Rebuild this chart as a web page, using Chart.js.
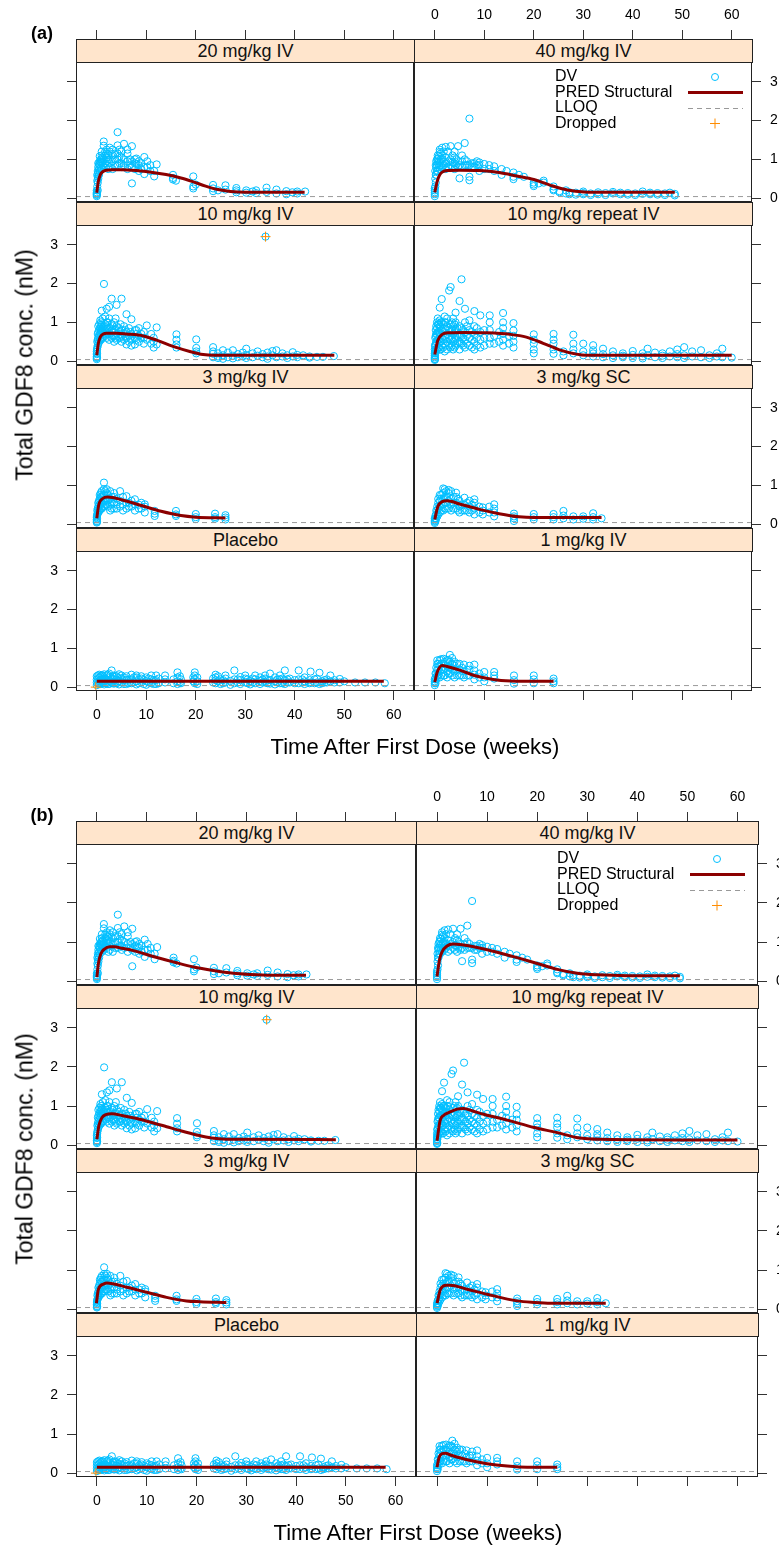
<!DOCTYPE html>
<html>
<head>
<meta charset="utf-8">
<script src="https://cdn.jsdelivr.net/npm/chart.js@4.4.1/dist/chart.umd.min.js"></script>
<style>
  body { margin: 0; width: 779px; height: 1549px; overflow: hidden; background: #fff; position: relative;
         font-family: "Liberation Sans", Arial, sans-serif; }
  canvas { position: absolute; }
  .strip { position: absolute; box-sizing: border-box; background: #ffe5cc; border: 1px solid #222;
           text-align: center; font-size: 18px; font-weight: normal; color: #111; white-space: nowrap; }
  .txt { position: absolute; white-space: nowrap; color: #000; transform: translate(-50%, -50%); }
</style>
</head>
<body>
<script>
// panel order: row by row, left then right
const panelLabels = ["20 mg/kg IV", "40 mg/kg IV", "10 mg/kg IV", "10 mg/kg repeat IV",
                     "3 mg/kg IV", "3 mg/kg SC", "Placebo", "1 mg/kg IV"];
const xTicks = [0, 10, 20, 30, 40, 50, 60];
const yTicks = [0, 1, 2, 3];
const lloq = 0.04;
const legendLabels = ["DV", "PRED Structural", "LLOQ", "Dropped"];

// observed DV, grouped by visit week: [week, [conc...]]
const dv20 = [[0,[0.05,0.08,0.1,0.12,0.15,0.2]],[0.1,[0.3,0.45,0.6]],[0.3,[0.5,0.65,0.8,0.9]],
  [0.6,[0.7,0.85,0.95,1.08]],[1,[0.75,0.9,1.0,1.1,1.2]],[1.4,[0.8,1.0,1.35,1.46]],[2,[0.85,0.95,1.05,1.15,1.25]],
  [2.6,[0.8,0.9,1.0,1.2,1.3]],[3.2,[0.75,0.95,1.1,1.25]],[4.2,[0.85,1.0,1.15,1.36,1.7]],[5,[0.8,0.9,1.05,1.2]],
  [5.5,[0.85,1.0,1.4]],[6.2,[0.75,0.95,1.15,1.25]],[7.1,[0.38,0.8,0.95,1.34]],[7.7,[0.75,0.9,1.0]],
  [8.5,[0.7,0.85,0.95]],[9.6,[0.62,0.8,1.06]],[10.8,[0.7,0.85]],[11.6,[0.56,0.7]],[12.1,[0.87]],
  [15.4,[0.48,0.52,0.6]],[16,[0.45]],[19.5,[0.25,0.3,0.56]],[20,[0.35]],[23.5,[0.18,0.25,0.34]],[24.5,[0.2]],
  [26,[0.22,0.33]],[28.2,[0.15,0.2,0.26]],[30.2,[0.14,0.2]],[31.5,[0.17]],[32.2,[0.13,0.2]],[34.3,[0.16,0.27]],
  [36.3,[0.12,0.22]],[38.3,[0.1,0.18]],[39.5,[0.15]],[40.5,[0.12,0.17]],[42.1,[0.17]],
  [0.2,[0.2,0.4,0.55,0.7]],[0.45,[0.6,0.75,0.88]],[0.8,[0.78,0.92,1.0]],[1.2,[0.85,0.95,1.05]],
  [1.7,[0.9,1.1,1.2]],[2.3,[0.75,1.0,1.12]],[3.7,[0.85,1.0,1.15]],[4.6,[0.9,1.08,1.25]],[6.7,[0.85,1.0]],
  [8,[0.88,1.02]],[9,[0.75,0.9]],[10.2,[0.8,0.95]]];
const dv40 = [[0,[0.05,0.1,0.15,0.2,0.25]],[0.1,[0.3,0.5,0.7]],[0.3,[0.6,0.8,0.95]],[0.6,[0.7,0.9,1.02,1.1]],
  [1,[0.75,0.9,1.19,1.25]],[1.5,[0.8,1.0,1.1,1.3]],[2.2,[0.75,0.9,1.05,1.32]],[2.7,[0.8,0.95,1.2]],
  [3.2,[0.85,1.0,1.34]],[4,[0.75,0.9,1.05,1.2]],[4.7,[0.8,0.95,1.34]],[5,[0.51,0.85]],[6.05,[0.85,1.0,1.42]],
  [7,[0.46,0.55,0.85,2.05]],[8,[0.8,0.9]],[9,[0.7,0.85,0.92]],[10,[0.75,0.88]],[12,[0.7,0.82]],[13.5,[0.6,0.75]],
  [15.9,[0.49,0.55,0.66]],[17,[0.6]],[20,[0.31,0.35,0.4]],[22,[0.4,0.45]],[24,[0.2,0.23,0.3]],[25.2,[0.15,0.18]],
  [26.5,[0.12,0.2]],[27.2,[0.1,0.15]],[28.5,[0.09,0.14]],[30,[0.1,0.13,0.17]],[31.5,[0.08,0.12]],[33,[0.1,0.15]],
  [34.5,[0.08,0.13]],[36,[0.12,0.16]],[37.5,[0.1,0.14]],[39,[0.09,0.13]],[40.5,[0.08,0.12]],[42,[0.11,0.17]],
  [43.5,[0.1,0.14]],[45,[0.09,0.13]],[46.5,[0.08,0.12]],[47.5,[0.14]],[48.5,[0.07,0.11]],
  [0.2,[0.4,0.6,0.85]],[0.45,[0.7,0.85,1.0]],[0.8,[0.8,0.95,1.08]],[1.2,[0.85,1.0,1.15]],[1.8,[0.85,0.95,1.2]],
  [3.6,[0.8,0.92,1.1]],[4.3,[0.85,1.0]],[5.5,[0.8,0.95,1.1]],[6.5,[0.85,0.95]],[7.5,[0.8,0.9]],[8.5,[0.85,0.95]],
  [11,[0.75,0.85]],[14.5,[0.7]],[18,[0.55]],[21,[0.38]]];
const dv10 = [[0,[0.05,0.08,0.12,0.18,0.25]],[0.1,[0.35,0.5]],[0.3,[0.45,0.6,0.75,0.9]],[0.7,[0.55,0.7,0.85,1.05]],
  [1,[0.6,0.8,0.95,1.3]],[1.45,[0.7,0.9,1.99]],[2,[0.6,0.75,0.9,1.0,1.35]],[2.5,[0.55,0.7,0.85,1.1,1.4]],
  [3,[0.6,0.8,0.95,1.61]],[3.5,[0.5,0.65,0.8,1.0]],[4,[0.55,0.7,0.9,1.45]],[4.5,[0.6,0.75,0.85]],
  [5,[0.5,0.65,0.8,1.61]],[5.5,[0.55,0.7,0.9]],[6,[0.43,0.6,0.75,1.21]],[6.5,[0.5,0.65,0.85]],
  [7,[0.4,0.55,0.7,1.08]],[7.7,[0.43,0.6,0.8]],[8.5,[0.5,0.65,0.85]],[9.5,[0.45,0.6,0.75]],[10.1,[0.55,0.92]],
  [11.5,[0.35,0.5,0.6]],[12.1,[0.43,0.87]],[16.1,[0.35,0.43,0.55,0.69]],[20.1,[0.2,0.25,0.34,0.56]],
  [23.5,[0.1,0.19,0.25,0.36]],[24.5,[0.08,0.12,0.2]],[25.5,[0.06,0.15,0.28]],[26.5,[0.1,0.22]],
  [27.5,[0.07,0.14,0.28]],[28.5,[0.1,0.18]],[29.5,[0.12,0.22]],[30.2,[0.08,0.15,0.32]],[31.5,[0.1,0.2]],
  [32.5,[0.14,0.25]],[33.5,[0.1,0.18]],[34.1,[3.21]],[34.5,[0.06,0.12,0.22]],[35.5,[0.15,0.26]],[36.3,[0.1,0.28]],
  [37.5,[0.12,0.2]],[38.5,[0.08,0.15]],[39.6,[0.12,0.23]],[40.5,[0.1,0.16]],[41.7,[0.15]],[43,[0.09,0.12]],
  [44.5,[0.11]],[45.7,[0.11]],[47.9,[0.13]],
  [0.05,[0.1,0.2,0.3]],[0.2,[0.4,0.55,0.7]],[0.5,[0.5,0.65,0.8,0.95]],[0.85,[0.55,0.75,0.9,1.0]],
  [1.2,[0.6,0.75,0.85,1.1]],[1.7,[0.65,0.8,0.95,1.15]],[2.2,[0.7,0.85,1.0]],[3.2,[0.65,0.75,0.9]],
  [3.8,[0.6,0.8,1.1]],[4.8,[0.6,0.7,0.95]],[5.8,[0.65,0.8]],[6.8,[0.6,0.75]],[8,[0.55,0.7,0.8]],[9,[0.6,0.7]],
  [11,[0.45,0.7]]];
const dvRepeat = [[0,[0.03,0.06,0.1,0.15,0.2,0.3]],[0.1,[0.2,0.4,0.6]],[0.3,[0.3,0.5,0.7,0.9]],
  [0.6,[0.35,0.55,0.75,0.95,1.1]],[1,[0.3,0.5,0.7,0.9,1.05,1.38]],[1.4,[0.4,0.6,0.8,1.0,1.6]],
  [2,[0.25,0.45,0.65,0.85,1.0,1.15]],[2.5,[0.3,0.5,0.7,0.9,1.1]],[2.9,[0.4,0.6,0.8,1.82]],
  [3.2,[0.35,0.55,0.75,0.95,1.91]],[3.7,[0.3,0.5,0.7,0.9,1.1]],[4.2,[0.4,0.6,0.8,1.0,1.25]],
  [5,[0.3,0.5,0.7,0.9,1.55]],[5.4,[0.45,0.65,0.85,2.11]],[6.1,[0.35,0.55,0.75,1.0,1.35]],[7,[0.4,0.6,0.8,1.05]],
  [8,[0.3,0.5,0.7,0.9,1.29]],[9.2,[0.35,0.55,0.75,1.18]],[11.1,[0.45,0.6,0.8,1.0,1.18]],
  [13.8,[0.4,0.55,0.7,0.85,1.0,1.24]],[15.9,[0.35,0.5,0.65,0.79,0.98]],[20,[0.2,0.3,0.45,0.55,0.69]],
  [24,[0.19,0.3,0.45,0.55,0.7]],[26,[0.15,0.25]],[28,[0.2,0.3,0.45,0.68]],[30,[0.15,0.25,0.45]],
  [32,[0.12,0.2,0.28,0.41]],[34,[0.1,0.18,0.32]],[36,[0.08,0.15,0.25]],[38,[0.1,0.14,0.2]],[40,[0.08,0.16,0.26]],
  [42,[0.07,0.12,0.2]],[43,[0.15,0.32]],[44.5,[0.1,0.22]],[46,[0.08,0.14,0.2]],[47.5,[0.12,0.25]],
  [49,[0.1,0.18,0.3]],[50.4,[0.08,0.15,0.36]],[52,[0.12,0.25]],[53.8,[0.1,0.28]],[55.5,[0.08,0.15]],
  [57,[0.12,0.2]],[58.1,[0.1,0.32]],[60,[0.09]],
  [0.05,[0.05,0.15,0.25,0.4]],[0.2,[0.25,0.45,0.65,0.8]],[0.45,[0.3,0.5,0.7,0.85,1.0]],[0.8,[0.35,0.55,0.75,0.95]],
  [1.2,[0.3,0.5,0.65,0.85,1.0]],[1.7,[0.35,0.55,0.75,0.95]],[2.2,[0.4,0.6,0.8,1.0]],[3.5,[0.4,0.6,0.8,1.0]],
  [4,[0.35,0.55,0.75,0.95]],[4.6,[0.45,0.65,0.85]],[5.7,[0.4,0.6,0.8]],[6.5,[0.45,0.65,0.9]],
  [7.5,[0.35,0.55,0.75]],[8.5,[0.4,0.6,0.85]],[10,[0.4,0.6,0.8]],[12,[0.45,0.65]],[13,[0.5,0.75]],[15,[0.45,0.65]]];
const dv3iv = [[0,[0.04,0.08,0.12,0.18]],[0.1,[0.25,0.35]],[0.3,[0.3,0.45,0.55]],[0.6,[0.35,0.5,0.65,0.75]],
  [1,[0.4,0.55,0.7,0.85]],[1.45,[0.45,0.6,0.75,0.9,1.07]],[2,[0.5,0.65,0.8,0.9]],[2.7,[0.35,0.5,0.65,0.85]],
  [3.5,[0.4,0.55,0.7,0.8]],[4.7,[0.45,0.6,0.85]],[5.3,[0.35,0.5,0.7]],[6,[0.4,0.55,0.72]],[7,[0.45,0.6]],
  [7.7,[0.35,0.5,0.64]],[9,[0.4,0.55]],[9.7,[0.3,0.45,0.51]],[11.7,[0.21,0.27,0.34]],[16,[0.21,0.25,0.34]],
  [20,[0.13,0.18,0.26]],[23.9,[0.14,0.18,0.27]],[26,[0.12,0.17,0.23]],
  [0.05,[0.06,0.15,0.22]],[0.2,[0.28,0.4]],[0.45,[0.35,0.5,0.6]],[0.8,[0.4,0.55,0.7,0.8]],[1.2,[0.45,0.6,0.75]],
  [1.7,[0.5,0.65,0.85]],[2.3,[0.45,0.6,0.75]],[3,[0.4,0.55,0.7]],[4,[0.4,0.5,0.65]],[6.5,[0.45,0.55]],
  [8.5,[0.4,0.5]]];
const dv3sc = [[0,[0.03,0.06,0.1,0.15]],[0.3,[0.15,0.25,0.35]],[0.7,[0.25,0.4,0.55,0.65]],[1,[0.3,0.45,0.6,0.75]],
  [1.7,[0.35,0.5,0.65,0.8,0.92]],[2.3,[0.4,0.55,0.7,0.85]],[3.3,[0.35,0.5,0.65,0.85]],[4.3,[0.4,0.55,0.7,0.81]],
  [5,[0.3,0.45,0.6]],[6,[0.35,0.5,0.68]],[7,[0.3,0.45,0.6]],[8,[0.25,0.4,0.55,0.64]],[9.7,[0.25,0.35,0.43]],
  [12,[0.2,0.3,0.4,0.51]],[16,[0.08,0.15,0.2,0.27]],[20,[0.12,0.18,0.26]],[24,[0.12,0.18,0.26]],
  [26,[0.15,0.22,0.34]],[28,[0.12,0.2]],[30,[0.14,0.2]],[32,[0.12,0.18,0.28]],[33.7,[0.15]],
  [0.15,[0.08,0.15,0.22]],[0.5,[0.2,0.35,0.45]],[1.3,[0.35,0.5,0.65,0.75]],[2,[0.4,0.55,0.7,0.9]],
  [2.8,[0.4,0.6,0.8,0.88]],[3.8,[0.4,0.55,0.7]],[4.7,[0.35,0.5,0.65]],[5.5,[0.35,0.5]],[6.5,[0.35,0.55]],
  [7.5,[0.35,0.5]],[9,[0.3,0.45]],[11,[0.3,0.45]]];
const dvPlacebo = [[0,[0.05,0.12,0.2,0.28]],[0.5,[0.08,0.15,0.25,0.32]],[1,[0.1,0.18,0.3]],[1.5,[0.07,0.14,0.22,0.33]],
  [2,[0.1,0.2,0.3]],[2.5,[0.08,0.16,0.35]],[3,[0.12,0.22,0.43]],[3.5,[0.09,0.18,0.3]],[4,[0.1,0.2,0.28]],
  [4.5,[0.07,0.15,0.33]],[5,[0.12,0.22,0.3]],[6,[0.08,0.18,0.28]],[7,[0.1,0.2,0.32]],[8,[0.07,0.15,0.25,0.3]],
  [9,[0.12,0.22,0.28]],[10,[0.06,0.15,0.25]],[11,[0.1,0.2,0.3]],[12,[0.08,0.18,0.3]],[13.8,[0.12,0.2,0.3]],
  [16.3,[0.08,0.15,0.25,0.38]],[17,[0.1,0.2]],[19.8,[0.1,0.2,0.3,0.38]],[20.3,[0.08,0.15,0.25]],
  [24,[0.1,0.18,0.25,0.32]],[25,[0.08,0.2]],[26,[0.12,0.22,0.3]],[27,[0.06,0.16]],[27.8,[0.1,0.2,0.43]],
  [29,[0.08,0.18,0.26]],[30,[0.12,0.22,0.3]],[31,[0.07,0.15]],[32,[0.1,0.2,0.3]],[33,[0.08,0.16,0.25]],
  [34,[0.12,0.22,0.3]],[35,[0.09,0.18,0.35]],[36,[0.07,0.15,0.25]],[37,[0.1,0.2,0.3]],[38,[0.08,0.18,0.43]],
  [39,[0.12,0.22]],[40.8,[0.1,0.2,0.43]],[42,[0.08,0.15,0.25]],[43.2,[0.12,0.4]],[44,[0.1,0.2]],[45,[0.08,0.37]],
  [46,[0.12,0.18]],[47.2,[0.15,0.3]],[49.1,[0.12,0.21]],[50,[0.15]],[52.2,[0.12]],[54.2,[0.12]],[56.3,[0.12]],
  [58.2,[0.1]],
  [0.25,[0.1,0.2,0.3]],[0.75,[0.08,0.18,0.28]],[1.25,[0.12,0.22,0.3]],[1.75,[0.1,0.2]],[2.25,[0.08,0.25,0.32]],
  [3.25,[0.1,0.2,0.28]],[4.25,[0.12,0.25]],[5.5,[0.08,0.18,0.25]],[6.5,[0.1,0.2]],[7.5,[0.12,0.25]],
  [8.5,[0.1,0.2]],[9.5,[0.08,0.18]],[10.5,[0.12,0.22]],[11.5,[0.08,0.18]],[12.5,[0.1,0.22]],[15.5,[0.1,0.2]],
  [16.8,[0.12,0.28]],[19.5,[0.15,0.25]],[23.5,[0.12,0.22]],[24.5,[0.15,0.28]],[25.5,[0.1,0.18]],[28.5,[0.12,0.2]],
  [30.5,[0.1,0.2]],[31.5,[0.12,0.22]],[33.5,[0.12,0.2]],[34.5,[0.1,0.18]],[36.5,[0.12,0.2]],[37.5,[0.1,0.22]],
  [38.5,[0.12,0.2]],[40,[0.1,0.18]],[41.5,[0.12,0.2]],[43,[0.1,0.18]],[44.5,[0.12,0.22]],[45.5,[0.1,0.15]],
  [46.5,[0.12,0.2]],[48,[0.12,0.18]]];
const dv1 = [[0,[0.05,0.1,0.15,0.2]],[0.3,[0.2,0.35,0.5]],[0.5,[0.3,0.45,0.6,0.69]],[1,[0.25,0.4,0.55,0.7]],
  [1.8,[0.3,0.45,0.6,0.73]],[2.5,[0.25,0.4,0.55,0.7]],[3.05,[0.35,0.5,0.65,0.83]],[4,[0.25,0.4,0.55,0.65]],
  [5,[0.3,0.45,0.6]],[5.9,[0.25,0.4,0.58]],[7,[0.3,0.45,0.55]],[8,[0.2,0.32,0.43,0.58]],[10,[0.15,0.25,0.39]],
  [12,[0.22,0.3,0.39]],[16,[0.09,0.18,0.3]],[20,[0.1,0.2,0.3]],[24,[0.1,0.15,0.22]],
  [0.15,[0.1,0.25,0.35]],[0.7,[0.3,0.45,0.6]],[1.3,[0.3,0.45,0.6,0.72]],[2,[0.3,0.5,0.65]],[2.8,[0.35,0.5,0.7]],
  [3.5,[0.3,0.45,0.6,0.75]],[4.5,[0.3,0.45,0.6]],[5.5,[0.3,0.5]],[6.5,[0.3,0.45]],[9,[0.25,0.35]]];

// dropped records (week, conc)
const dropped10 = [[34.1, 3.21]];
const droppedPlacebo = [[-0.2, 0.0]];

// population predictions, structural model, panel (a)
const predA20 = [[0,0.14],[0.3,0.42],[0.7,0.6],[1.2,0.68],[2,0.72],[3,0.73],[5,0.73],[8,0.71],[11,0.67],[14,0.61],
  [17,0.52],[19.5,0.42],[22,0.31],[24.5,0.22],[27,0.17],[30,0.15],[42,0.15]];
const predA40 = [[0,0.15],[0.5,0.44],[1,0.6],[1.5,0.67],[2.5,0.71],[5,0.72],[9,0.71],[13,0.66],[16.6,0.57],
  [20,0.48],[23.4,0.33],[26.8,0.21],[30.2,0.16],[35,0.15],[48.5,0.15]];
const predA10 = [[0,0.15],[0.3,0.45],[0.7,0.62],[1.3,0.7],[2,0.72],[4,0.72],[6,0.7],[9.4,0.65],[12.1,0.54],
  [15.4,0.38],[18.8,0.25],[21.5,0.17],[23.5,0.15],[48,0.15]];
const predARepeat = [[0,0.17],[0.6,0.53],[1.5,0.69],[2.8,0.73],[6,0.74],[10.5,0.73],[15.2,0.69],[18.5,0.62],
  [21.9,0.46],[25.2,0.29],[28.6,0.18],[30.6,0.15],[60,0.15]];
const predA3iv = [[0,0.15],[0.4,0.5],[1.2,0.66],[2.2,0.7],[5,0.63],[9,0.48],[13,0.33],[17,0.22],[20,0.18],[26,0.16]];
const predA3sc = [[0,0.12],[0.6,0.45],[1.5,0.58],[2.5,0.6],[5,0.52],[9,0.38],[13,0.27],[17,0.19],[20,0.17],[33.7,0.17]];
const predAPlacebo = [[0,0.15],[58,0.15]];
const predA1 = [[0,0.13],[0.5,0.39],[1.5,0.56],[2.5,0.53],[5.2,0.43],[8,0.3],[10.7,0.22],[13.4,0.17],[18,0.15],[24,0.15]];

// panel (b)
const predB20 = [[0,0.1],[0.3,0.45],[0.8,0.7],[1.5,0.82],[2.6,0.88],[3.5,0.88],[5,0.84],[7.3,0.78],[11.3,0.63],
  [15.4,0.49],[19.4,0.36],[23.4,0.27],[27.4,0.2],[30.7,0.17],[35,0.15],[42,0.15]];
const predB40 = [[0,0.12],[0.5,0.55],[1,0.75],[2,0.9],[3.2,0.95],[5,0.93],[8,0.86],[12,0.74],[16,0.6],[20,0.45],
  [24,0.3],[28,0.2],[32,0.16],[38,0.14],[48.5,0.14]];
const predB10 = [[0,0.15],[0.4,0.5],[1,0.7],[1.8,0.78],[3,0.8],[5,0.76],[8,0.68],[11,0.58],[14,0.47],[17,0.36],
  [20,0.26],[23,0.18],[26,0.15],[48,0.14]];
const predBRepeat = [[0,0.11],[0.6,0.62],[1.3,0.76],[2.3,0.83],[4,0.92],[5.3,0.94],[7,0.88],[9.3,0.79],[14,0.64],
  [19.4,0.45],[24,0.32],[28.1,0.19],[32.7,0.15],[60,0.13]];
const predB3iv = [[-0.1,0.15],[0.3,0.51],[1.3,0.64],[2,0.67],[6,0.56],[10,0.43],[14,0.3],[18,0.21],[20.7,0.19],[26,0.17]];
const predB3sc = [[0,0.15],[0.7,0.51],[1.8,0.61],[2.6,0.61],[6,0.51],[10,0.38],[16,0.21],[19.4,0.17],[22.7,0.15],[33.7,0.15]];
const predBPlacebo = [[0,0.15],[58,0.15]];
const predB1 = [[0,0.15],[0.4,0.4],[1,0.5],[1.6,0.51],[3,0.45],[6,0.34],[10,0.24],[14,0.18],[18,0.15],[24,0.15]];

const dvByPanel = [dv20, dv40, dv10, dvRepeat, dv3iv, dv3sc, dvPlacebo, dv1];
const droppedByPanel = [[], [], dropped10, [], [], [], droppedPlacebo, []];
const predByFig = [
  [predA20, predA40, predA10, predARepeat, predA3iv, predA3sc, predAPlacebo, predA1],
  [predB20, predB40, predB10, predBRepeat, predB3iv, predB3sc, predBPlacebo, predB1]
];

// layout of the two figures (pixels)
const figs = [
  { tag: "(a)", left: 76, mid: 414, right: 752, top: 39, rowH: 163, stripH: 23 },
  { tag: "(b)", left: 76, mid: 416, right: 758, top: 821, rowH: 164, stripH: 23 }
];
const X_MIN = -4.2, X_MAX = 64.1, Y_MIN = -0.1, Y_TOP = 3.51;
const PAD_X = 60, PAD_T = 40, PAD_B = 60;
const tickFont = { family: "'Liberation Sans', Arial, sans-serif", size: 14 };

function toPoints(groups) {
  const pts = [];
  groups.forEach(([t, cs]) => cs.forEach(c => pts.push({ x: t, y: c })));
  return pts;
}
const pairs = arr => arr.map(([x, y]) => ({ x, y }));

function addText(str, x, y, css, rotate) {
  const d = document.createElement("div");
  d.className = "txt";
  d.textContent = str;
  d.style.left = x + "px";
  d.style.top = y + "px";
  Object.assign(d.style, css);
  if (rotate) d.style.transform = "translate(-50%, -50%) rotate(-90deg)";
  document.body.appendChild(d);
}

const panelFrame = {
  id: "panelFrame",
  afterDraw(chart, args, opts) {
    const { ctx, chartArea: a } = chart;
    ctx.save();
    ctx.strokeStyle = "#222";
    ctx.lineWidth = 1;
    ctx.strokeRect(a.left + 0.5, a.top + 0.5, a.right - a.left - 1, a.bottom - a.top - 1);
    if (opts.legend) {
      ctx.font = "16px 'Liberation Sans', Arial, sans-serif";
      ctx.fillStyle = "#000";
      ctx.textBaseline = "middle";
      legendLabels.forEach((lab, i) => {
        const y = a.top + 38 + i * 15.5;
        ctx.fillText(lab, a.left + 141, y);
        const sx = a.left + 301;
        if (i === 0) {
          ctx.strokeStyle = "#00bfff"; ctx.lineWidth = 1;
          ctx.beginPath(); ctx.arc(sx, y, 3.5, 0, Math.PI * 2); ctx.stroke();
        } else if (i === 1) {
          ctx.strokeStyle = "#8b0000"; ctx.lineWidth = 3;
          ctx.beginPath(); ctx.moveTo(a.left + 274, y); ctx.lineTo(a.left + 329, y); ctx.stroke();
        } else if (i === 2) {
          ctx.strokeStyle = "#999"; ctx.lineWidth = 1; ctx.setLineDash([5, 4]);
          ctx.beginPath(); ctx.moveTo(a.left + 274, y + 0.5); ctx.lineTo(a.left + 329, y + 0.5); ctx.stroke();
          ctx.setLineDash([]);
        } else {
          ctx.strokeStyle = "#ff8c00"; ctx.lineWidth = 1;
          ctx.beginPath(); ctx.moveTo(sx - 5, y); ctx.lineTo(sx + 5, y);
          ctx.moveTo(sx, y - 5); ctx.lineTo(sx, y + 5); ctx.stroke();
        }
      });
    }
    ctx.restore();
  }
};

function makePanel(fig, figIdx, k) {
  const row = Math.floor(k / 2), col = k % 2;
  const left = col === 0 ? fig.left : fig.mid;
  const width = col === 0 ? fig.mid - fig.left : fig.right - fig.mid;
  const top = fig.top + row * fig.rowH;
  const height = fig.rowH;
  const pxPerUnit = (height - fig.stripH) / (Y_TOP - Y_MIN);
  const yMax = Y_TOP + fig.stripH / pxPerUnit;

  const canvas = document.createElement("canvas");
  canvas.width = width + 2 * PAD_X;
  canvas.height = height + PAD_T + PAD_B;
  canvas.style.left = (left - PAD_X) + "px";
  canvas.style.top = (top - PAD_T) + "px";
  document.body.appendChild(canvas);

  const strip = document.createElement("div");
  strip.className = "strip";
  strip.textContent = panelLabels[k];
  Object.assign(strip.style, {
    left: left + "px", top: top + "px", width: (width + 1) + "px",
    height: (fig.stripH + 1) + "px", lineHeight: (fig.stripH - 1) + "px"
  });
  document.body.appendChild(strip);

  const xTickFn = s => { s.ticks = xTicks.map(v => ({ value: v })); };
  const yTickFn = s => { s.ticks = yTicks.map(v => ({ value: v })); };
  const axisGrid = show => ({ display: show, drawOnChartArea: false, drawTicks: true, tickLength: 9,
                              color: "#333", lineWidth: 1 });
  const tickOpts = (show, pad) => ({ display: show, padding: pad, color: "#000", font: tickFont, maxRotation: 0 });

  new Chart(canvas, {
    data: {
      datasets: [
        { type: "line", label: "PRED Structural", data: pairs(predByFig[figIdx][k]), borderColor: "#8b0000",
          borderWidth: 3, pointRadius: 0, cubicInterpolationMode: "monotone", order: 1 },
        { type: "scatter", label: "Dropped", data: pairs(droppedByPanel[k]), pointStyle: "cross", pointRadius: 5,
          borderColor: "#ff8c00", borderWidth: 1, order: 2 },
        { type: "line", label: "LLOQ", data: [{ x: X_MIN, y: lloq }, { x: X_MAX, y: lloq }], borderColor: "#9a9a9a",
          borderWidth: 1, borderDash: [5, 4], pointRadius: 0, order: 3 },
        { type: "scatter", label: "DV", data: toPoints(dvByPanel[k]), pointStyle: "circle", pointRadius: 3.6,
          borderColor: "#00bfff", backgroundColor: "rgba(0,0,0,0)", borderWidth: 1, order: 4 }
      ]
    },
    options: {
      responsive: false,
      animation: false,
      events: [],
      layout: { padding: 0 },
      plugins: { legend: { display: false }, tooltip: { enabled: false }, panelFrame: { legend: k === 1 } },
      scales: {
        x: { type: "linear", axis: "x", position: "bottom", min: X_MIN, max: X_MAX,
             afterBuildTicks: xTickFn, afterFit: s => { s.height = PAD_B; },
             grid: axisGrid(row === 3), border: { display: false }, ticks: tickOpts(row === 3 && col === 0, 7) },
        x2: { type: "linear", axis: "x", position: "top", min: X_MIN, max: X_MAX,
              afterBuildTicks: xTickFn, afterFit: s => { s.height = PAD_T; },
              grid: axisGrid(row === 0), border: { display: false }, ticks: tickOpts(row === 0 && col === 1, 6) },
        y: { type: "linear", axis: "y", position: "left", min: Y_MIN, max: yMax,
             afterBuildTicks: yTickFn, afterFit: s => { s.width = PAD_X; },
             grid: axisGrid(col === 0), border: { display: false }, ticks: tickOpts(col === 0 && row % 2 === 1, 9) },
        y2: { type: "linear", axis: "y", position: "right", min: Y_MIN, max: yMax,
              afterBuildTicks: yTickFn, afterFit: s => { s.width = PAD_X; },
              grid: axisGrid(col === 1), border: { display: false }, ticks: tickOpts(col === 1 && row % 2 === 0, 9) }
      }
    },
    plugins: [panelFrame]
  });
}

figs.forEach((fig, fi) => {
  for (let k = 0; k < 8; k++) makePanel(fig, fi, k);
  const bottom = fig.top + 4 * fig.rowH;
  addText(fig.tag, 42, fig.top - 6, { fontSize: "18px", fontWeight: "bold" });
  addText("Time After First Dose (weeks)", (fig.left + fig.right) / 2 + 1, bottom + 56, { fontSize: "22px" });
  addText("Total GDF8 conc. (nM)", 25, (fig.top + bottom) / 2, { fontSize: "23px" }, true);
});
</script>
</body>
</html>
